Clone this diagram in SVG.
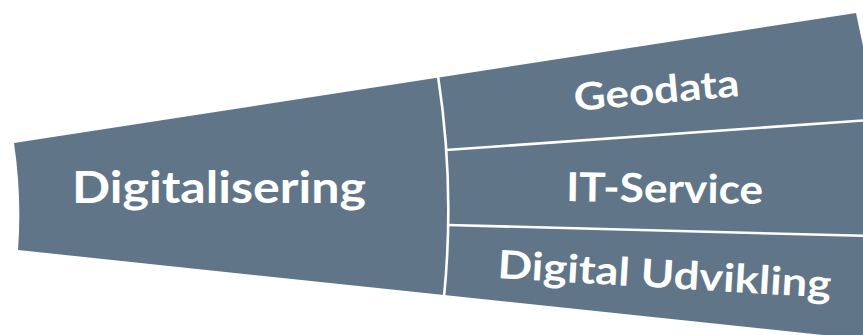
<svg xmlns="http://www.w3.org/2000/svg" width="863" height="335" viewBox="0 0 863 335">
<style>
.shape{fill:#607688;}
.div{fill:none;stroke:#ffffff;stroke-width:2.6;stroke-linecap:butt;}
.lbl{fill:#ffffff;font-family:Lato,"Open Sans","Liberation Sans",sans-serif;font-weight:700;}
</style>
<rect width="863" height="335" fill="#ffffff"/>
<g id="funnel">
<path class="shape" d="M 14,143 L 856,13 L 866,60 L 870,340 L 444,295 L 18,250 Q 22,197 14,143 Z"/>
</g>
<g id="connectors">
<path class="div" d="M 438,76 Q 455,186 444,297"/>
<path class="div" d="M 446,150 L 870,120"/>
<path class="div" d="M 448,225 L 870,236"/>
</g>
<g id="digitalisering">
<text class="lbl" x="72" y="203" font-size="44" textLength="294" lengthAdjust="spacingAndGlyphs">Digitalisering</text>
</g>
<g id="geodata">
<text class="lbl" x="575" y="111" font-size="38" textLength="166" lengthAdjust="spacingAndGlyphs" transform="rotate(-5.2 575 111)">Geodata</text>
</g>
<g id="it-service">
<text class="lbl" x="566" y="201" font-size="40" textLength="197" lengthAdjust="spacingAndGlyphs" transform="rotate(0.8 566 201)">IT-Service</text>
</g>
<g id="digital-udvikling">
<text class="lbl" x="497" y="278" font-size="39" textLength="334" lengthAdjust="spacingAndGlyphs" transform="rotate(3.4 497 278)">Digital Udvikling</text>
</g>
</svg>
